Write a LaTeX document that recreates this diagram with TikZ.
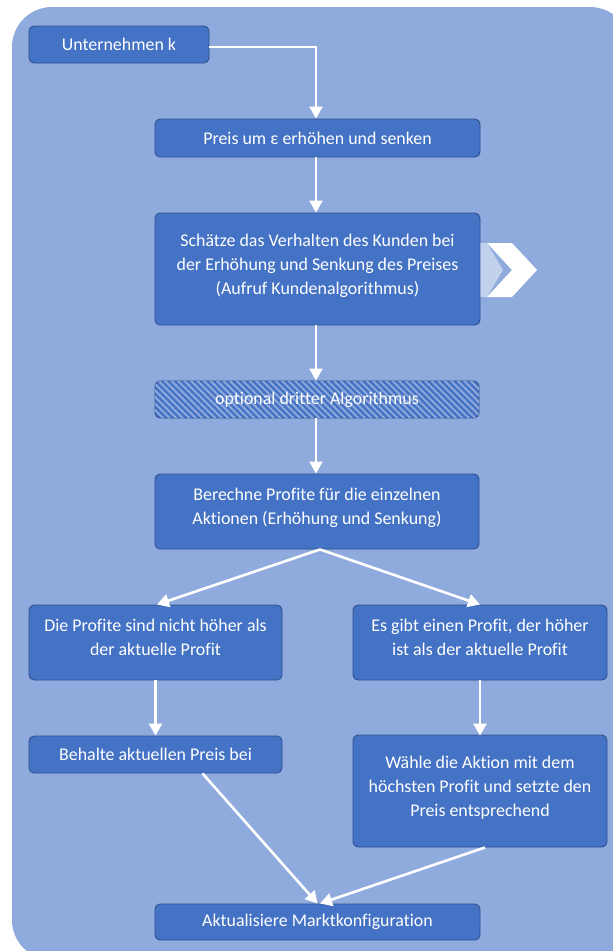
\documentclass[tikz,border=0pt]{standalone}
\usepackage{fontspec}
\setmainfont{Carlito}[Ligatures=NoCommon]
\usetikzlibrary{arrows.meta,patterns.meta}
\definecolor{bgblue}{HTML}{8FAADC}
\definecolor{boxblue}{HTML}{4472C4}
\definecolor{boxline}{HTML}{2F528F}
\definecolor{stripe}{HTML}{8DA8DB}
\tikzset{
  box/.style={draw=boxline, line width=0.9pt, fill=boxblue, rounded corners=5pt,
    text=white, align=center, inner sep=0pt,
    font=\fontsize{17.9}{24}\selectfont},
  hatched/.style={postaction={pattern={Lines[angle=-45,distance=4.6pt,line width=2pt]}, pattern color=stripe}},
  conn/.style={draw=white, line width=2.6pt, -{Triangle[width=13pt,length=12pt]}},
}
\begin{document}
\begin{tikzpicture}[x=1pt,y=-1pt]
\useasboundingbox (0,0) rectangle (613,951);
\begin{scope}
\clip (0,0) rectangle (613,951);
\fill[bgblue, rounded corners=40pt] (12,7) rectangle (630,960);
\end{scope}
\node[box, minimum width=180pt, minimum height=37pt] (b1) at (119,44.5) {Unternehmen k};
\node[box, minimum width=325pt, minimum height=38pt] (b2) at (317.5,138) {Preis um ε erhöhen und senken};
\node[box, minimum width=325pt, minimum height=112pt] (b3) at (317.5,269) {Schätze das Verhalten des Kunden bei\\der Erhöhung und Senkung des Preises\\(Aufruf Kundenalgorithmus)\\[-14pt]};
\node[box, hatched, minimum width=324pt, minimum height=37pt] (b4) at (317,399.5) {optional dritter Algorithmus};
\node[box, minimum width=324pt, minimum height=75pt] (b5) at (317,511.5) {Berechne Profite für die einzelnen\\Aktionen (Erhöhung und Senkung)\\[-14pt]};
\node[box, minimum width=253pt, minimum height=75pt] (b6) at (155.5,642.5) {Die Profite sind nicht höher als\\der aktuelle Profit\\[-14pt]};
\node[box, minimum width=254pt, minimum height=75pt] (b7) at (480,642.5) {Es gibt einen Profit, der höher\\ist als der aktuelle Profit\\[-14pt]};
\node[box, minimum width=253pt, minimum height=37pt] (b8) at (155.5,754.5) {Behalte aktuellen Preis bei};
\node[box, minimum width=254pt, minimum height=112pt] (b9) at (480,791) {Wähle die Aktion mit dem\\höchsten Profit und setzte den\\Preis entsprechend\\[-14pt]};
\node[box, minimum width=325pt, minimum height=36pt] (b10) at (317.5,922) {Aktualisiere Marktkonfiguration};
% chevron
\fill[white, opacity=0.45] (b3.east |- 0,243) -- (487,243) -- (503,270) -- (487,297) -- (b3.east |- 0,297) -- cycle;
\fill[white] (487,243) -- (512,243) -- (537,270) -- (512,297) -- (487,297) -- (512,270) -- cycle;
% connectors
\draw[conn] ([yshift=-2.5pt]b1.east) -| ([xshift=-1.5pt]b2.north);
\draw[conn] ([xshift=-1.5pt]b2.south) -- ([xshift=-1.5pt]b3.north);
\draw[conn] ([xshift=-1.5pt]b3.south) -- ([xshift=-1pt]b4.north);
\draw[conn] ([xshift=-1pt]b4.south) -- ([xshift=-1pt]b5.north);
\draw[conn] ([xshift=3pt]b5.south) -- ([xshift=1.5pt]b6.north);
\draw[conn] ([xshift=3pt]b5.south) -- (b7.north);
\draw[conn] (b6.south) -- (b8.north);
\draw[conn] (b7.south) -- ([yshift=-1pt]b9.north);
\draw[conn] ([xshift=47pt]b8.south) -- ([xshift=0pt]b10.north);
\draw[conn] ([xshift=5pt]b9.south) -- ([xshift=2.5pt]b10.north);
\end{tikzpicture}
\end{document}
